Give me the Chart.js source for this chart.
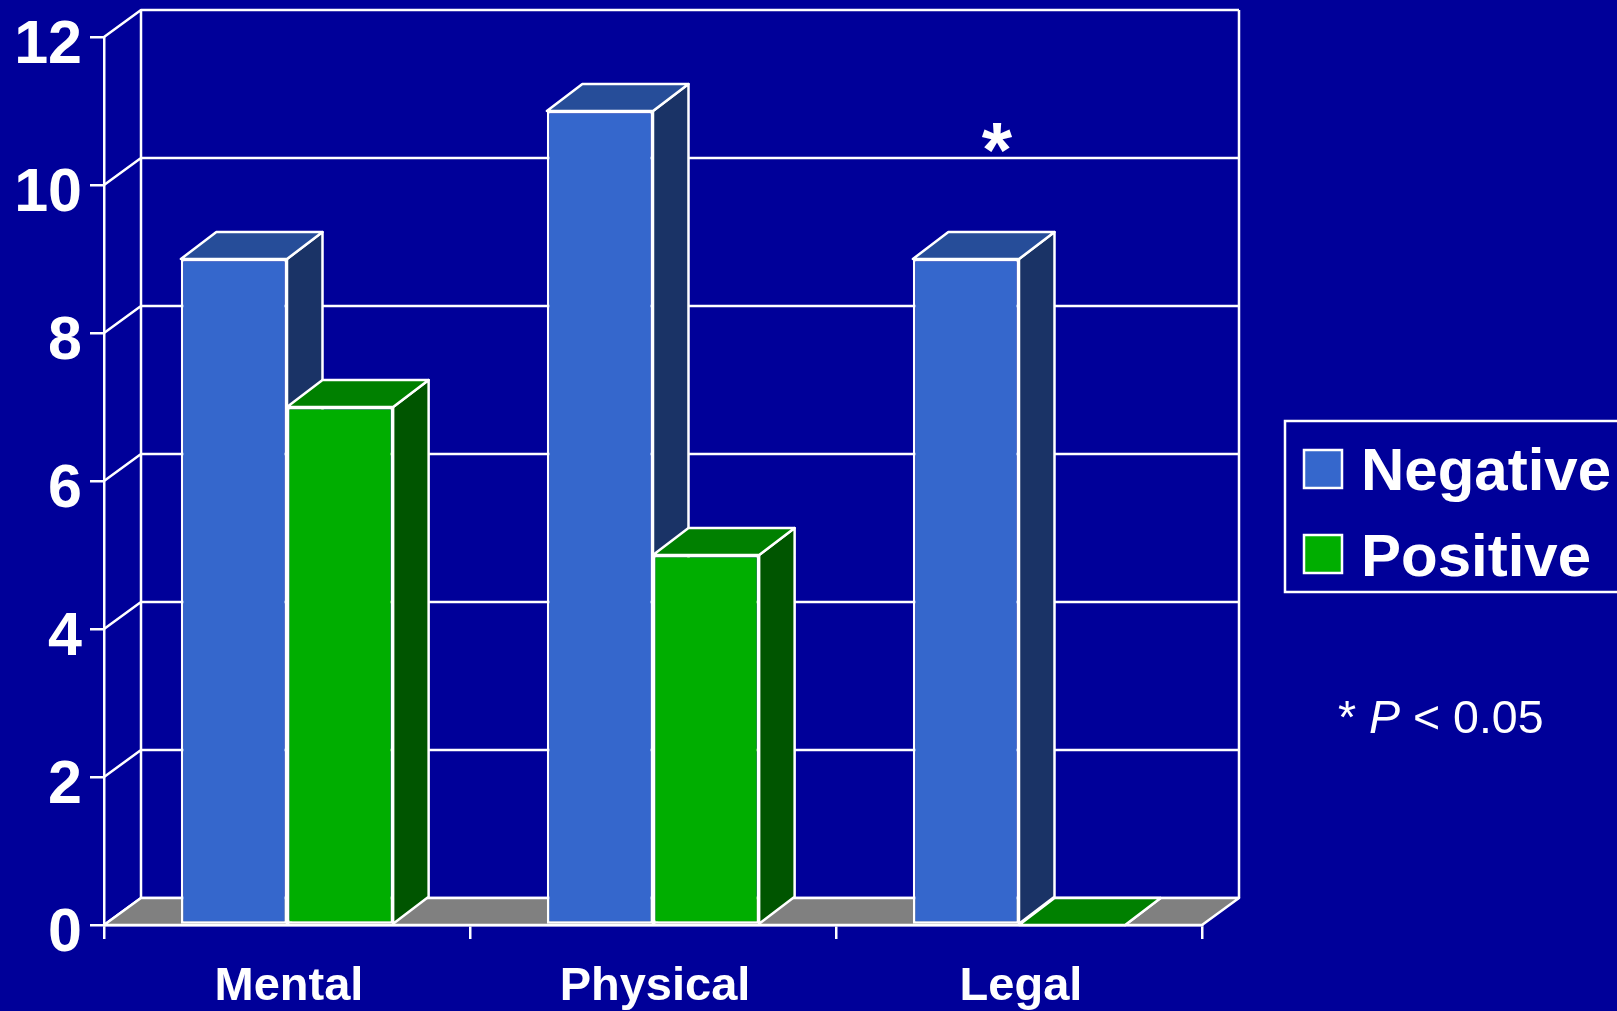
<!DOCTYPE html>
<html>
<head>
<meta charset="utf-8">
<title>Negative vs Positive</title>
<script src="https://cdn.jsdelivr.net/npm/chart.js@4"></script>
<style>
  html, body { margin: 0; padding: 0; background: #000099; overflow: hidden; }
  canvas { display: block; }
</style>
</head>
<body>
<canvas id="chart" width="1617" height="1011"></canvas>
<script>
const categories = ['Mental', 'Physical', 'Legal']
const negativeValues = [9, 11, 9]
const positiveValues = [7, 5, 0]
const yTicks = [0, 2, 4, 6, 8, 10, 12]

const WHITE = '#ffffff'
const FONT = '"Liberation Sans", Arial, sans-serif'
const LINE = 2.5

// fake 3D depth of the chart, in pixels
const depthX = 37
const depthY = -27
const barDepthX = 35.5

const faces = [
  { front: '#3567cc', top: '#264d99', side: '#1a3366' },
  { front: '#00ae00', top: '#008000', side: '#005500' }
]

function polygon(ctx, points, fill) {
  ctx.beginPath()
  points.forEach((p, i) => (i ? ctx.lineTo(p[0], p[1]) : ctx.moveTo(p[0], p[1])))
  ctx.closePath()
  ctx.fillStyle = fill
  ctx.fill()
  ctx.stroke()
}

const depthPlugin = {
  id: 'depth',
  // back wall, floor and the side and top faces go under the library's bars
  beforeDatasetsDraw(chart) {
    const { ctx, chartArea: area, scales } = chart
    const y = scales.y
    const base = y.getPixelForValue(0)

    ctx.save()
    ctx.strokeStyle = WHITE
    ctx.lineWidth = LINE
    ctx.lineJoin = 'round'

    ctx.beginPath()
    yTicks.forEach(value => {
      const py = y.getPixelForValue(value)
      ctx.moveTo(area.left, py)
      ctx.lineTo(area.left + depthX, py + depthY)
      ctx.lineTo(area.right + depthX, py + depthY)
    })
    ctx.moveTo(area.left + depthX, y.getPixelForValue(12) + depthY)
    ctx.lineTo(area.left + depthX, base + depthY)
    ctx.moveTo(area.right + depthX, y.getPixelForValue(12) + depthY)
    ctx.lineTo(area.right + depthX, base + depthY)
    ctx.stroke()

    polygon(ctx, [
      [area.left, base],
      [area.right, base],
      [area.right + depthX, base + depthY],
      [area.left + depthX, base + depthY]
    ], '#808080')

    chart.data.datasets.forEach((ds, d) => {
      chart.getDatasetMeta(d).data.forEach(bar => {
        const left = bar.x - bar.width / 2
        const right = bar.x + bar.width / 2
        polygon(ctx, [
          [right, bar.y],
          [right + barDepthX, bar.y + depthY],
          [right + barDepthX, bar.base + depthY],
          [right, bar.base]
        ], faces[d].side)
        polygon(ctx, [
          [left, bar.y],
          [right, bar.y],
          [right + barDepthX, bar.y + depthY],
          [left + barDepthX, bar.y + depthY]
        ], faces[d].top)
      })
    })
    ctx.restore()
  },
  // legend box, significance star and the note on the right
  afterDraw(chart) {
    const { ctx, scales } = chart
    ctx.save()
    ctx.strokeStyle = WHITE
    ctx.lineWidth = LINE
    ctx.textBaseline = 'alphabetic'
    ctx.textAlign = 'left'

    ctx.beginPath()
    ctx.moveTo(1640, 421)
    ctx.lineTo(1285, 421)
    ctx.lineTo(1285, 592)
    ctx.lineTo(1640, 592)
    ctx.stroke()

    chart.data.datasets.forEach((ds, d) => {
      const top = 450 + d * 85
      ctx.fillStyle = ds.backgroundColor
      ctx.fillRect(1304, top, 38, 38)
      ctx.strokeRect(1304, top, 38, 38)
      ctx.fillStyle = WHITE
      ctx.font = 'bold 60px ' + FONT
      ctx.fillText(ds.label, 1361, 490 + d * 86)
    })

    ctx.fillStyle = WHITE
    ctx.textAlign = 'center'
    ctx.font = 'bold 78px ' + FONT
    ctx.fillText('*', scales.x.getPixelForValue(2) - 22, 177)

    ctx.textAlign = 'left'
    let x = 1338
    const note = [['* ', 'normal'], ['P', 'italic'], [' < 0.05', 'normal']]
    note.forEach(([text, style]) => {
      ctx.font = style + ' 46.5px ' + FONT
      ctx.fillText(text, x, 733)
      x += ctx.measureText(text).width
    })
    ctx.restore()
  }
}

new Chart(document.getElementById('chart'), {
  type: 'bar',
  data: {
    labels: categories,
    datasets: [
      {
        label: 'Negative',
        data: negativeValues,
        backgroundColor: faces[0].front,
        borderColor: WHITE,
        borderWidth: LINE,
        borderSkipped: false
      },
      {
        label: 'Positive',
        data: positiveValues,
        backgroundColor: faces[1].front,
        borderColor: WHITE,
        borderWidth: LINE,
        borderSkipped: false
      }
    ]
  },
  plugins: [depthPlugin],
  options: {
    responsive: false,
    animation: false,
    categoryPercentage: 0.58,
    barPercentage: 1,
    layout: { padding: { top: 37, right: 415, bottom: 0, left: 0 } },
    plugins: {
      legend: { display: false },
      tooltip: { enabled: false }
    },
    scales: {
      x: {
        afterFit: scale => { scale.height = 86 },
        grid: { drawOnChartArea: false, color: WHITE, lineWidth: LINE, tickLength: 14 },
        border: { color: WHITE, width: LINE },
        ticks: {
          color: WHITE,
          padding: 20,
          labelOffset: 2,
          maxRotation: 0,
          font: { family: FONT, size: 47, weight: 'bold' }
        }
      },
      y: {
        min: 0,
        max: 12,
        afterFit: scale => {
          scale.width = 104
          scale.paddingTop = 0
          scale.paddingBottom = 0
        },
        afterBuildTicks: scale => { scale.ticks = yTicks.map(value => ({ value })) },
        grid: { drawOnChartArea: false, color: WHITE, lineWidth: LINE, tickLength: 14 },
        border: { color: WHITE, width: LINE },
        ticks: {
          color: WHITE,
          padding: 8,
          labelOffset: 9,
          font: { family: FONT, size: 61, weight: 'bold' }
        }
      }
    }
  }
})
</script>
</body>
</html>
